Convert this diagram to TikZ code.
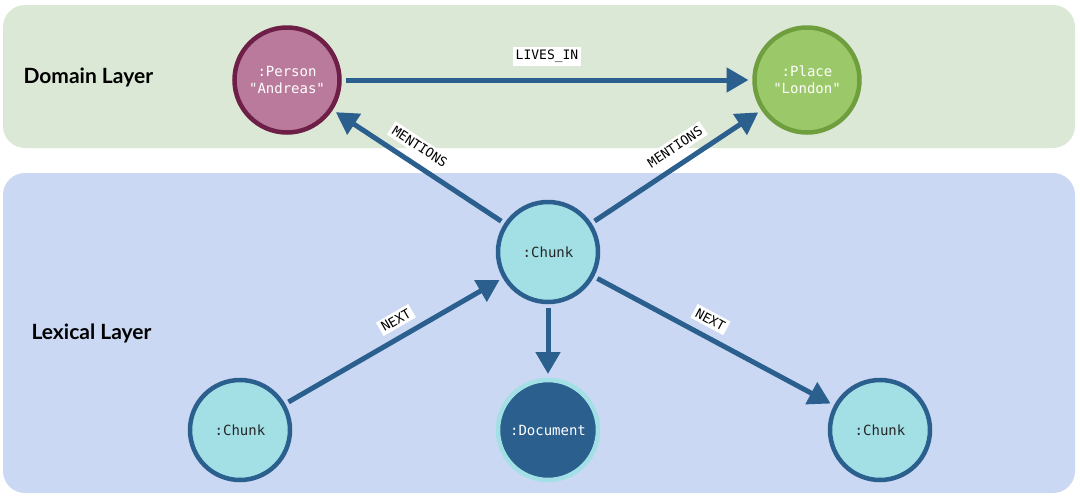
\documentclass[tikz,border=0pt]{standalone}
\usepackage{fontspec}
\setmainfont{Lato}
\newfontfamily\monof{DejaVu Sans Mono}
\usetikzlibrary{arrows.meta}
\definecolor{dombg}{HTML}{DCE8D6}
\definecolor{lexbg}{HTML}{CAD8F3}
\definecolor{edge}{HTML}{2A5F8E}
\definecolor{pfill}{HTML}{B97A9B}
\definecolor{pline}{HTML}{6E1F47}
\definecolor{lfill}{HTML}{9BC96A}
\definecolor{lline}{HTML}{6E9E3E}
\definecolor{cfill}{HTML}{A3E0E5}
\begin{document}
\begin{tikzpicture}[x=1pt,y=-1pt,
 layer/.style={rounded corners=22pt},
 nd/.style={circle,line width=4.5pt,minimum size=100pt,inner sep=0pt,font=\monof\fontsize{14}{17}\selectfont,align=center,text=white,outer sep=6pt},
 ch/.style={nd,fill=cfill,draw=edge,text=black!85},
 ed/.style={draw=edge,line width=5pt,-{Triangle[length=22pt,width=24pt]}},
 lb/.style={fill=white,font=\monof\fontsize{13}{15}\selectfont,inner sep=3pt,sloped,above=7pt,pos=0.55},
 ttl/.style={font=\bfseries\fontsize{21}{24}\selectfont,anchor=west}]
\useasboundingbox (0,0) rectangle (1080,499);
\fill[dombg,layer] (3,5) rectangle (1075,148);
\fill[lexbg,layer] (3,173) rectangle (1075,493);
\node[ttl] (dl) at (20,77) {Domain Layer};
\node[ttl] (ll) at (28,333) {Lexical Layer};
\node[nd,fill=pfill,draw=pline,minimum size=105pt] (p) at (287,80) {:Person\\"Andreas"};
\node[nd,fill=lfill,draw=lline,minimum size=105pt] (l) at (807,80) {:Place\\"London"};
\node[ch] (c) at (548,252) {:Chunk};
\node[ch] (c1) at (240,430) {:Chunk};
\node[nd,fill=edge,draw=cfill] (d) at (548,430) {:Document};
\node[ch] (c2) at (880,430) {:Chunk};
\draw[ed] (p) -- node[lb,pos=0.5,above=5pt] {LIVES\_IN} (l);
\draw[ed] (c) -- node[lb] {MENTIONS} (p);
\draw[ed] (c) -- node[lb] {MENTIONS} (l);
\draw[ed] (c1) -- node[lb] {NEXT} (c);
\draw[ed] (c) -- node[lb,pos=0.45] {NEXT} (c2);
\draw[ed] (c) -- (d);
\end{tikzpicture}
\end{document}
